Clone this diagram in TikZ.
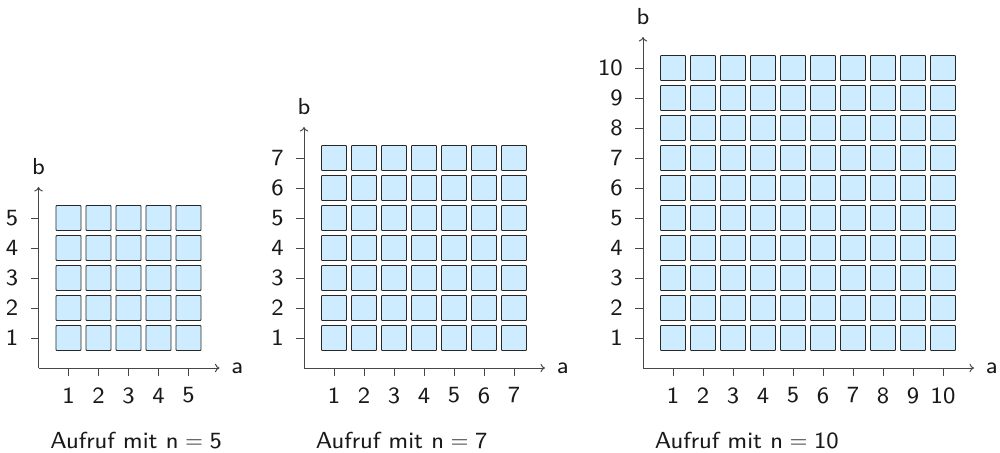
\documentclass[tikz,border=0pt]{standalone}
\usepackage{fontspec}
\setsansfont{lmsans8-regular}[Extension=.otf]
\usetikzlibrary{arrows.meta}

\definecolor{cellfill}{RGB}{206,236,255}
\definecolor{celledge}{RGB}{40,40,40}
\definecolor{axisgray}{RGB}{70,70,70}

\tikzset{
  cell/.style={draw=celledge, fill=cellfill, line width=0.6pt,
    minimum size=0.625cm, inner sep=0pt, rounded corners=0.5pt},
  axis/.style={draw=axisgray, line width=0.7pt, -{To[length=3.2pt,width=6pt]}},
  tickmark/.style={draw=axisgray, line width=0.7pt},
  lbl/.style={inner sep=0pt, text=black!90},
}

% one coordinate grid: #1 = name prefix, #2 = x of the origin, #3 = n
\newcommand\gridpanel[3]{%
  \pgfmathsetmacro\axlen{30*(#3+1)+1}
  \coordinate (#1o) at (#2,368);
  \coordinate (#1x) at (#2+\axlen,368);
  \coordinate (#1y) at (#2,368-\axlen);
  \draw[axis] (#1o) -- (#1x);
  \draw[axis] (#1o) -- (#1y);
  \node[lbl, anchor=west] (#1a) at ([xshift=0.29cm]#1x) {a};
  \node[lbl, anchor=base] (#1b) at ([yshift=0.3cm]#1y) {b};
  \foreach \i in {1,...,#3} {
    \coordinate (#1tx\i) at (#2+30*\i,368);
    \coordinate (#1ty\i) at (#2,368-30*\i);
    \draw[tickmark] (#1tx\i) -- ++(0,8);
    \draw[tickmark] (#1ty\i) -- ++(-8,0);
    \node[lbl] (#1lx\i) at (#2+30*\i,395.5) {\i};
    \node[lbl, anchor=east] (#1ly\i) at (#2-20,368-30*\i) {\i};
    \foreach \j in {1,...,#3} {
      \node[cell] (#1c\i-\j) at (#2+30*\i,368-30*\j) {};
    }
  }
  \node[lbl, anchor=base west] (#1cap) at (#2+11.5,448)
    {Aufruf mit $\mathsf{n}=\mathsf{#3}$};
}

\begin{document}
\begin{tikzpicture}[x=0.025cm, y=-0.025cm,
    every node/.style={font=\sffamily\fontsize{16.5}{20}\selectfont}]
  \useasboundingbox (0,0) rectangle (1000,453);
  \gridpanel{p}{38.5}{5}
  \gridpanel{q}{304}{7}
  \gridpanel{r}{643}{10}
\end{tikzpicture}
\end{document}
